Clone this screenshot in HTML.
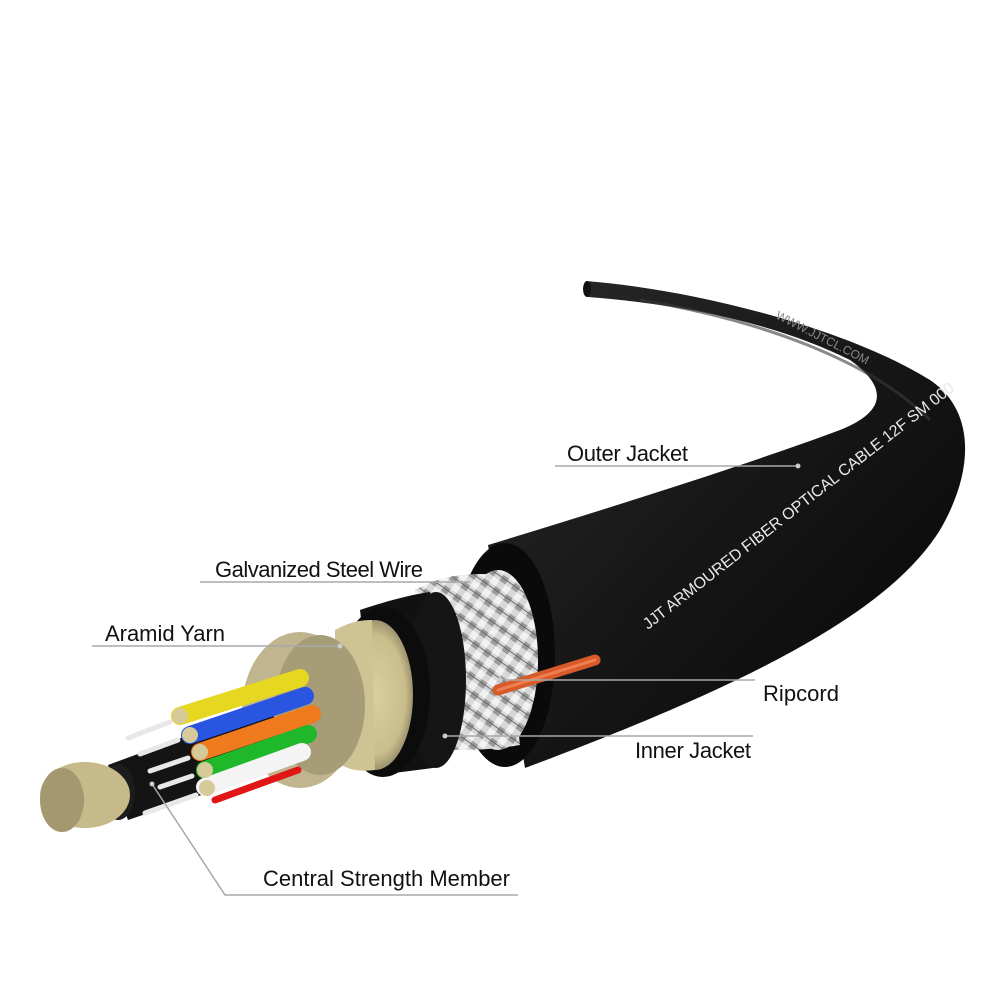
<!DOCTYPE html>
<html><head><meta charset="utf-8"><style>
html,body{margin:0;padding:0;background:#fff}
svg{display:block}
text{font-family:"Liberation Sans Narrow","Liberation Sans",sans-serif;fill:#111}
</style></head><body>
<svg width="1000" height="1000" viewBox="0 0 1000 1000" xmlns="http://www.w3.org/2000/svg">
<defs>
<linearGradient id="jk" x1="0" y1="0" x2="1" y2="1">
<stop offset="0" stop-color="#2a2a2a"/><stop offset="0.5" stop-color="#161616"/><stop offset="1" stop-color="#050505"/>
</linearGradient>
<radialGradient id="yarn" cx="0.5" cy="0.5" r="0.5">
<stop offset="0" stop-color="#d8cfa0"/><stop offset="0.8" stop-color="#c9bd8a"/><stop offset="1" stop-color="#9c9270"/>
</radialGradient>
<pattern id="braid" width="14" height="14" patternUnits="userSpaceOnUse" patternTransform="rotate(35)">
<rect width="14" height="14" fill="#d8d8d8"/>
<rect width="7" height="7" fill="#9a9a9a"/><rect x="7" y="7" width="7" height="7" fill="#f2f2f2"/>
<line x1="0" y1="3" x2="14" y2="3" stroke="#555" stroke-width="0.8"/>
</pattern>
</defs>

<path d="M586,281 C700,290 850,330 930,380 C975,410 975,470 940,530 C890,610 760,680 525,768
 L488,545 C620,505 760,460 840,430 C890,410 885,385 850,360 C780,325 690,305 588,297 Z" fill="url(#jk)"/>
<path d="M640,300 C760,320 870,360 930,420" stroke="#3a3a3a" stroke-width="3" fill="none" opacity="0.6"/>
<ellipse cx="587" cy="289" rx="4" ry="8" fill="#111"/>
<ellipse cx="505" cy="655" rx="50" ry="112" fill="#0a0a0a"/>
<ellipse cx="498" cy="660" rx="40" ry="90" fill="url(#braid)"/>
<path d="M415,590 C440,575 470,572 500,575 L520,745 C480,752 450,750 430,748 Z" fill="url(#braid)"/>
<line x1="498" y1="690" x2="595" y2="660" stroke="#d85a2a" stroke-width="11" stroke-linecap="round"/>
<line x1="498" y1="690" x2="595" y2="660" stroke="#f08050" stroke-width="3" stroke-linecap="round"/>
<path d="M360,610 C390,600 410,595 430,592 L440,767 C420,770 400,772 380,775 Z" fill="#111"/>
<ellipse cx="436" cy="680" rx="30" ry="88" fill="#151515"/>
<ellipse cx="383" cy="692" rx="47" ry="85" fill="#0c0c0c"/>
<ellipse cx="375" cy="695" rx="38" ry="75" fill="url(#yarn)"/>
<path d="M335,630 C350,622 360,620 372,620 L375,770 C360,772 345,770 335,760 Z" fill="#cfc394"/>
<ellipse cx="300" cy="710" rx="58" ry="78" fill="#b9ad82" opacity="0.9"/>
<ellipse cx="320" cy="705" rx="45" ry="70" fill="#a69c78"/>
<path d="M108,765 L270,705 L290,765 L128,820 Z" fill="#141414"/>
<ellipse cx="118" cy="792" rx="17" ry="28" fill="#1c1c1c"/>
<g stroke-linecap="round">
<line x1="300" y1="678" x2="180" y2="716" stroke="#e6d820" stroke-width="18"/>
<line x1="305" y1="696" x2="190" y2="735" stroke="#2a55e0" stroke-width="18"/>
<line x1="312" y1="714" x2="200" y2="752" stroke="#f07a1e" stroke-width="18"/>
<line x1="308" y1="734" x2="205" y2="770" stroke="#1fb82b" stroke-width="18"/>
<line x1="302" y1="752" x2="205" y2="787" stroke="#f4f4f4" stroke-width="18"/>
<line x1="298" y1="770" x2="215" y2="800" stroke="#e01515" stroke-width="7"/>
</g>
<g stroke="#e8e8e8" stroke-width="5" stroke-linecap="round">
<line x1="170" y1="722" x2="128" y2="738"/><line x1="178" y1="740" x2="140" y2="754"/>
<line x1="188" y1="758" x2="150" y2="771"/><line x1="192" y1="776" x2="160" y2="787"/>
<line x1="196" y1="795" x2="145" y2="813"/>
</g>
<g fill="#d6c99a">
<circle cx="180" cy="716" r="8"/><circle cx="190" cy="735" r="8"/><circle cx="200" cy="752" r="8"/>
<circle cx="205" cy="770" r="8"/><circle cx="207" cy="788" r="8"/>
</g>
<ellipse cx="85" cy="795" rx="45" ry="33" fill="#c6ba8a"/>
<ellipse cx="62" cy="800" rx="22" ry="32" fill="#a39870"/>

<text transform="translate(648,630) rotate(-38)" font-size="16" textLength="390" style="fill:#e8e8e8">JJT ARMOURED FIBER OPTICAL CABLE 12F SM 000</text>
<text transform="translate(775,318) rotate(27)" font-size="12" style="fill:#888">WWW.JJTCL.COM</text>

<g stroke="#a8a8a8" stroke-width="1.5" fill="none">
<polyline points="555,466 798,466"/>
<polyline points="200,582 470,582"/>
<polyline points="92,646 340,646"/>
<polyline points="500,680 755,680"/>
<polyline points="445,736 753,736"/>
<polyline points="152,784 225,895 518,895"/>
</g>
<g fill="#ccc">
<circle cx="798" cy="466" r="2.5"/><circle cx="340" cy="646" r="2.5"/><circle cx="500" cy="680" r="2.5"/>
<circle cx="445" cy="736" r="2.5"/><circle cx="152" cy="784" r="2.5"/>
</g>
<g font-size="22">
<text x="567" y="461" textLength="121">Outer Jacket</text>
<text x="215" y="577" textLength="208">Galvanized Steel Wire</text>
<text x="105" y="641" textLength="120">Aramid Yarn</text>
<text x="763" y="701" textLength="76">Ripcord</text>
<text x="635" y="758" textLength="116">Inner Jacket</text>
<text x="263" y="886" textLength="247">Central Strength Member</text>
</g>
</svg>
</body></html>
